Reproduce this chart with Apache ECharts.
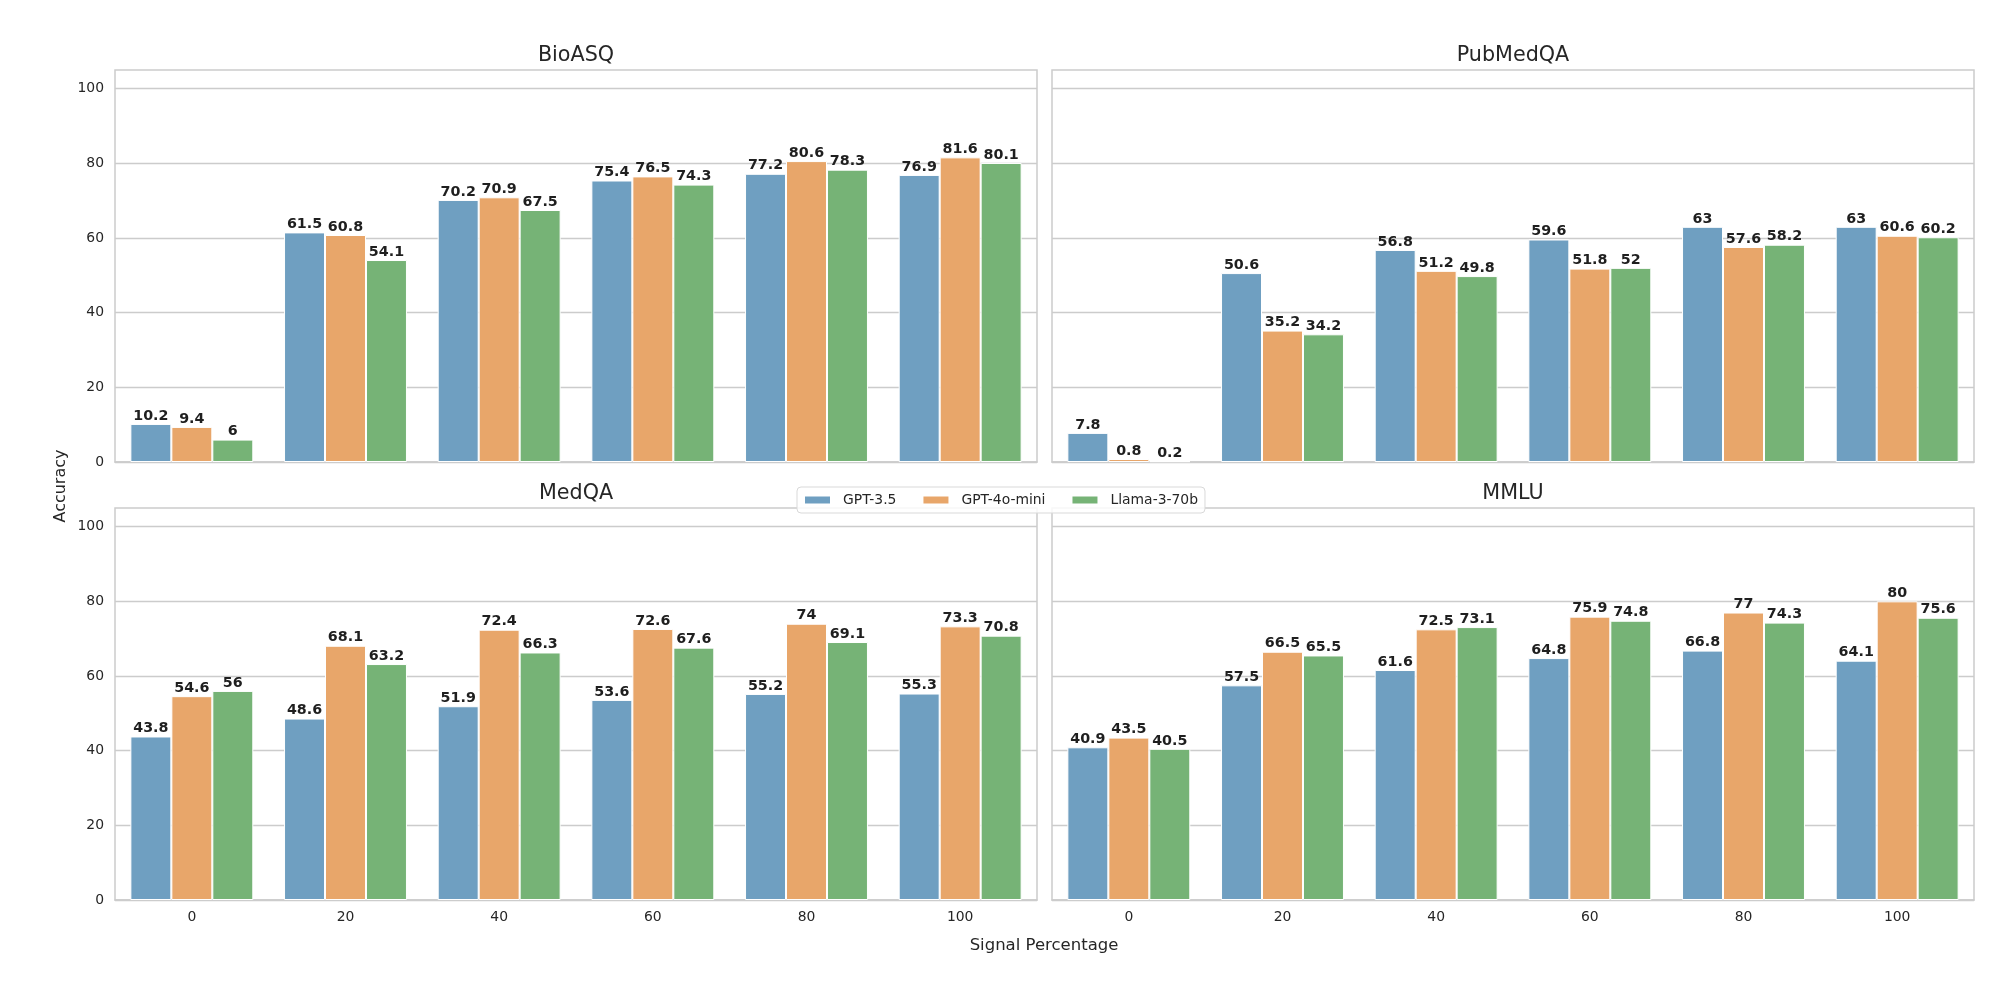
<!DOCTYPE html>
<html>
<head>
<meta charset="utf-8">
<script src="https://cdn.jsdelivr.net/npm/echarts@6/dist/echarts.min.js"></script>
<style>
  html, body { margin: 0; padding: 0; background: #ffffff; }
  #chart { width: 2000px; height: 1000px; }
</style>
</head>
<body>
<div id="chart"></div>
<script>
// ---- Data ----
const categories = ['0', '20', '40', '60', '80', '100'];
const models = ['GPT-3.5', 'GPT-4o-mini', 'Llama-3-70b'];
const datasets = ['BioASQ', 'PubMedQA', 'MedQA', 'MMLU'];
const yTicks = [0, 20, 40, 60, 80, 100];

const bioasqGpt35 = [10.2, 61.5, 70.2, 75.4, 77.2, 76.9];
const bioasqGpt4oMini = [9.4, 60.8, 70.9, 76.5, 80.6, 81.6];
const bioasqLlama = [6, 54.1, 67.5, 74.3, 78.3, 80.1];

const pubmedqaGpt35 = [7.8, 50.6, 56.8, 59.6, 63, 63];
const pubmedqaGpt4oMini = [0.8, 35.2, 51.2, 51.8, 57.6, 60.6];
const pubmedqaLlama = [0.2, 34.2, 49.8, 52, 58.2, 60.2];

const medqaGpt35 = [43.8, 48.6, 51.9, 53.6, 55.2, 55.3];
const medqaGpt4oMini = [54.6, 68.1, 72.4, 72.6, 74, 73.3];
const medqaLlama = [56, 63.2, 66.3, 67.6, 69.1, 70.8];

const mmluGpt35 = [40.9, 57.5, 61.6, 64.8, 66.8, 64.1];
const mmluGpt4oMini = [43.5, 66.5, 72.5, 75.9, 77, 80];
const mmluLlama = [40.5, 65.5, 73.1, 74.8, 74.3, 75.6];

const panelData = [
  [bioasqGpt35, bioasqGpt4oMini, bioasqLlama],
  [pubmedqaGpt35, pubmedqaGpt4oMini, pubmedqaLlama],
  [medqaGpt35, medqaGpt4oMini, medqaLlama],
  [mmluGpt35, mmluGpt4oMini, mmluLlama]
];

// ---- Styles ----
const colors = ['#6f9fc1', '#e8a66a', '#76b376'];
const FONT = 'DejaVu Sans';
const TEXT = '#262626';
const GRIDC = '#cccccc';

const gridPos = [
  { left: 115, top: 70 },
  { left: 1052, top: 70 },
  { left: 115, top: 508 },
  { left: 1052, top: 508 }
];
const GW = 922, GH = 392;

const grids = gridPos.map(p => ({
  left: p.left, top: p.top, width: GW, height: GH,
  show: true, borderColor: GRIDC, borderWidth: 1.5, backgroundColor: 'transparent',
  containLabel: false
}));

const titles = datasets.map((d, i) => ({
  text: d,
  left: gridPos[i].left + GW / 2,
  top: gridPos[i].top - 24.5,
  textAlign: 'center',
  padding: 0,
  textStyle: { fontFamily: FONT, fontSize: 20.7, fontWeight: 'normal', color: TEXT }
}));

const xAxes = datasets.map((d, i) => ({
  type: 'category',
  gridIndex: i,
  data: categories,
  boundaryGap: true,
  axisLine: { show: true, lineStyle: { color: GRIDC, width: 1.5 } },
  axisTick: { show: false },
  splitLine: { show: false },
  axisLabel: {
    show: i >= 2, margin: 10,
    fontFamily: FONT, fontSize: 13.9, color: TEXT
  }
}));

const yAxes = datasets.map((d, i) => ({
  type: 'value',
  gridIndex: i,
  min: 0, max: 105, interval: 20,
  axisLine: { show: false },
  axisTick: { show: false },
  splitLine: { show: true, showMaxLine: false, lineStyle: { color: GRIDC, width: 1.3 } },
  axisLabel: {
    show: i % 2 === 0, margin: 11, showMaxLabel: false,
    fontFamily: FONT, fontSize: 13.9, color: TEXT,
    formatter: v => (yTicks.indexOf(v) >= 0 ? String(v) : '')
  }
}));

const series = [];
panelData.forEach((group, gi) => {
  group.forEach((vals, mi) => {
    series.push({
      type: 'bar',
      name: models[mi],
      xAxisIndex: gi,
      yAxisIndex: gi,
      data: vals,
      barGap: '0%',
      barCategoryGap: '20%',
      itemStyle: { color: colors[mi], borderColor: '#ffffff', borderWidth: 1 },
      emphasis: { disabled: true },
      label: {
        show: true, position: 'top', distance: 1,
        fontFamily: FONT, fontSize: 14.3, fontWeight: 'bold', color: '#1f1f1f'
      }
    });
  });
});

const option = {
  animation: false,
  backgroundColor: '#ffffff',
  title: titles,
  grid: grids,
  xAxis: xAxes,
  yAxis: yAxes,
  legend: {
    data: models,
    left: 797, top: 487,
    orient: 'horizontal',
    itemWidth: 27, itemHeight: 9, itemGap: 25,
    padding: [6, 7, 6, 6],
    backgroundColor: 'rgba(255,255,255,0.85)',
    borderColor: '#d9d9d9', borderWidth: 1, borderRadius: 4,
    icon: 'rect',
    textStyle: { fontFamily: FONT, fontSize: 13.9, color: TEXT, padding: [0, 0, 0, 7] },
    z: 10
  },
  graphic: [
    {
      type: 'text', x: 61, y: 486, rotation: Math.PI / 2,
      style: { text: 'Accuracy', font: '16px "DejaVu Sans"', fill: TEXT, align: 'center', verticalAlign: 'middle' }
    },
    {
      type: 'text', x: 1044, y: 946,
      style: { text: 'Signal Percentage', font: '16.5px "DejaVu Sans"', fill: TEXT, align: 'center', verticalAlign: 'middle' }
    }
  ],
  series: series
};

const chart = echarts.init(document.getElementById('chart'), null, { renderer: 'canvas' });
chart.setOption(option);
</script>
</body>
</html>
